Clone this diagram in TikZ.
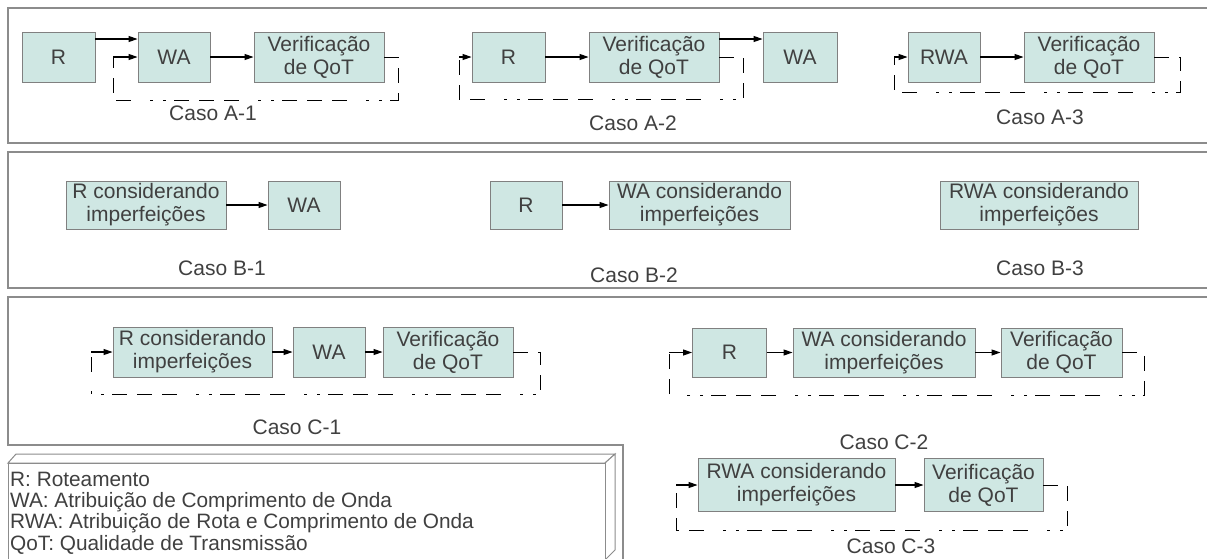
\documentclass[tikz,border=0pt]{standalone}
\usepackage{fontspec}
\setmainfont{Liberation Sans}
\usetikzlibrary{arrows.meta}
\definecolor{boxfill}{RGB}{207,231,227}
\definecolor{boxline}{RGB}{128,128,128}
\definecolor{txt}{RGB}{64,64,64}
\definecolor{panel}{RGB}{140,140,140}
\begin{document}
\begin{tikzpicture}[x=1pt,y=-1pt,
 blk/.style={draw=boxline, fill=boxfill, line width=0.9pt, inner sep=0pt, align=center, text=txt, font=\fontsize{21}{23}\selectfont},
 arr/.style={-{Triangle[length=9pt,width=6pt]}, line width=1.1pt, black},
 fb/.style={line width=0.9pt, black, dash pattern=on 15pt off 10pt on 15pt off 10pt on 15pt off 8pt on 3pt off 10pt on 3pt off 19pt},
 lbl/.style={text=txt, font=\fontsize{21}{23}\selectfont},
 pnl/.style={draw=panel, line width=1.4pt}]
\useasboundingbox (0,0) rectangle (1207,558);
% panels
\draw[pnl] (1220,8) -- (8,8) -- (8,143) -- (1220,143);
\draw[pnl] (1220,152) -- (8,152) -- (8,288) -- (1220,288);
\draw[pnl] (1220,297) -- (8,297) -- (8,445) -- (623,445) -- (623,570);
% ---------- A-1
\node[blk, minimum width=73pt, minimum height=50pt] (a1r) at (58.5,57) {R};
\node[blk, minimum width=72pt, minimum height=50pt] (a1w) at (174,57) {WA};
\node[blk, minimum width=130pt, minimum height=50pt] (a1v) at (319,57) {Verificação\\de QoT};
\draw[arr] (a1r.east |- 0,39) -- (a1w.west |- 0,39);
\draw[arr] (a1w) -- (a1v);
\coordinate (a1c1) at (398,57); \coordinate (a1c2) at (398,100);
\coordinate (a1c3) at (113,100); \coordinate (a1c4) at (113,57);
\draw[fb] (a1v.east) -- (a1c1) -- (a1c2) -- (a1c3) -- (a1c4);
\draw[arr] (a1c4) -- (a1w.west);
\node[lbl] (ca1) at (213,113) {Caso A-1};
% ---------- A-2
\node[blk, minimum width=73pt, minimum height=50pt] (a2r) at (508.5,57) {R};
\node[blk, minimum width=130pt, minimum height=50pt] (a2v) at (654,57) {Verificação\\de QoT};
\node[blk, minimum width=74pt, minimum height=50pt] (a2w) at (800,57) {WA};
\draw[arr] (a2r) -- (a2v);
\draw[arr] (a2v.east |- 0,39) -- (a2w.west |- 0,39);
\coordinate (a2c1) at (743,57); \coordinate (a2c2) at (743,99);
\coordinate (a2c3) at (459,99); \coordinate (a2c4) at (459,57);
\draw[fb] (a2v.east) -- (a2c1) -- (a2c2) -- (a2c3) -- (a2c4);
\draw[arr] (a2c4) -- (a2r.west);
\node[lbl] (ca2) at (633,123) {Caso A-2};
% ---------- A-3
\node[blk, minimum width=72pt, minimum height=50pt] (a3r) at (944,57) {RWA};
\node[blk, minimum width=130pt, minimum height=50pt] (a3v) at (1089,57) {Verificação\\de QoT};
\draw[arr] (a3r) -- (a3v);
\coordinate (a3c1) at (1180,57); \coordinate (a3c2) at (1180,92);
\coordinate (a3c3) at (894,92); \coordinate (a3c4) at (894,57);
\draw[fb] (a3v.east) -- (a3c1) -- (a3c2) -- (a3c3) -- (a3c4);
\draw[arr] (a3c4) -- (a3r.west);
\node[lbl] (ca3) at (1040,117) {Caso A-3};
% ---------- B
\node[blk, minimum width=160pt, minimum height=48pt] (b1r) at (146,205) {R considerando\\imperfeições};
\node[blk, minimum width=72pt, minimum height=48pt] (b1w) at (304,205) {WA};
\draw[arr] (b1r) -- (b1w);
\node[lbl] (cb1) at (222,268) {Caso B-1};
\node[blk, minimum width=72pt, minimum height=48pt] (b2r) at (526,205) {R};
\node[blk, minimum width=181pt, minimum height=48pt] (b2w) at (699.5,205) {WA considerando\\imperfeições};
\draw[arr] (b2r) -- (b2w);
\node[lbl] (cb2) at (634,275) {Caso B-2};
\node[blk, minimum width=198pt, minimum height=48pt] (b3r) at (1039,205) {RWA considerando\\imperfeições};
\node[lbl] (cb3) at (1040,268) {Caso B-3};
% ---------- C-1
\node[blk, minimum width=159pt, minimum height=50pt] (c1r) at (192.5,352) {R considerando\\imperfeições};
\node[blk, minimum width=72pt, minimum height=50pt] (c1w) at (329,352) {WA};
\node[blk, minimum width=130pt, minimum height=50pt] (c1v) at (448,352) {Verificação\\de QoT};
\draw[arr] (c1r) -- (c1w);
\draw[arr] (c1w) -- (c1v);
\coordinate (c1c1) at (540,352); \coordinate (c1c2) at (540,394);
\coordinate (c1c3) at (91,394); \coordinate (c1c4) at (91,352);
\draw[fb] (c1v.east) -- (c1c1) -- (c1c2) -- (c1c3) -- (c1c4);
\draw[arr] (c1c4) -- (c1r.west);
\node[lbl] (cc1) at (297,427) {Caso C-1};
% ---------- C-2
\node[blk, minimum width=74pt, minimum height=49pt] (c2r) at (729.5,352.5) {R};
\node[blk, minimum width=182pt, minimum height=49pt] (c2w) at (884,352.5) {WA considerando\\imperfeições};
\node[blk, minimum width=121pt, minimum height=49pt] (c2v) at (1061.5,352.5) {Verificação\\de QoT};
\draw[arr] (c2r) -- (c2w);
\draw[arr] (c2w) -- (c2v);
\coordinate (c2c1) at (1144,352.5); \coordinate (c2c2) at (1144,395);
\coordinate (c2c3) at (669,395); \coordinate (c2c4) at (669,352.5);
\draw[fb] (c2v.east) -- (c2c1) -- (c2c2) -- (c2c3) -- (c2c4);
\draw[arr] (c2c4) -- (c2r.west);
\node[lbl] (cc2) at (884,442) {Caso C-2};
% ---------- C-3
\node[blk, minimum width=197pt, minimum height=53pt] (c3r) at (796.5,485) {RWA considerando\\imperfeições};
\node[blk, minimum width=119pt, minimum height=53pt] (c3v) at (983.5,485) {Verificação\\de QoT};
\draw[arr] (c3r) -- (c3v);
\coordinate (c3c1) at (1067,485); \coordinate (c3c2) at (1067,530);
\coordinate (c3c3) at (676,530); \coordinate (c3c4) at (676,485);
\draw[fb] (c3v.east) -- (c3c1) -- (c3c2) -- (c3c3) -- (c3c4);
\draw[arr] (c3c4) -- (c3r.west);
\node[lbl] (cc3) at (891,546) {Caso C-3};
% ---------- legend (3D box)
\draw[draw=panel, line width=1pt, fill=white] (8,463) -- (16,454) -- (615,454) -- (605,463) -- cycle;
\draw[draw=panel, line width=1pt, fill=white] (605,463) -- (615,454) -- (615,550) -- (605,560) -- cycle;
\draw[draw=panel, line width=1pt, fill=white] (8,463) rectangle (605,575);
\node[anchor=north west, align=left, inner sep=0pt, text=txt, font=\fontsize{20.8}{21.2}\selectfont] (leg) at (10,472)
 {R: Roteamento\\WA: Atribuição de Comprimento de Onda\\RWA: Atribuição de Rota e Comprimento de Onda\\QoT: Qualidade de Transmissão};
\end{tikzpicture}
\end{document}
